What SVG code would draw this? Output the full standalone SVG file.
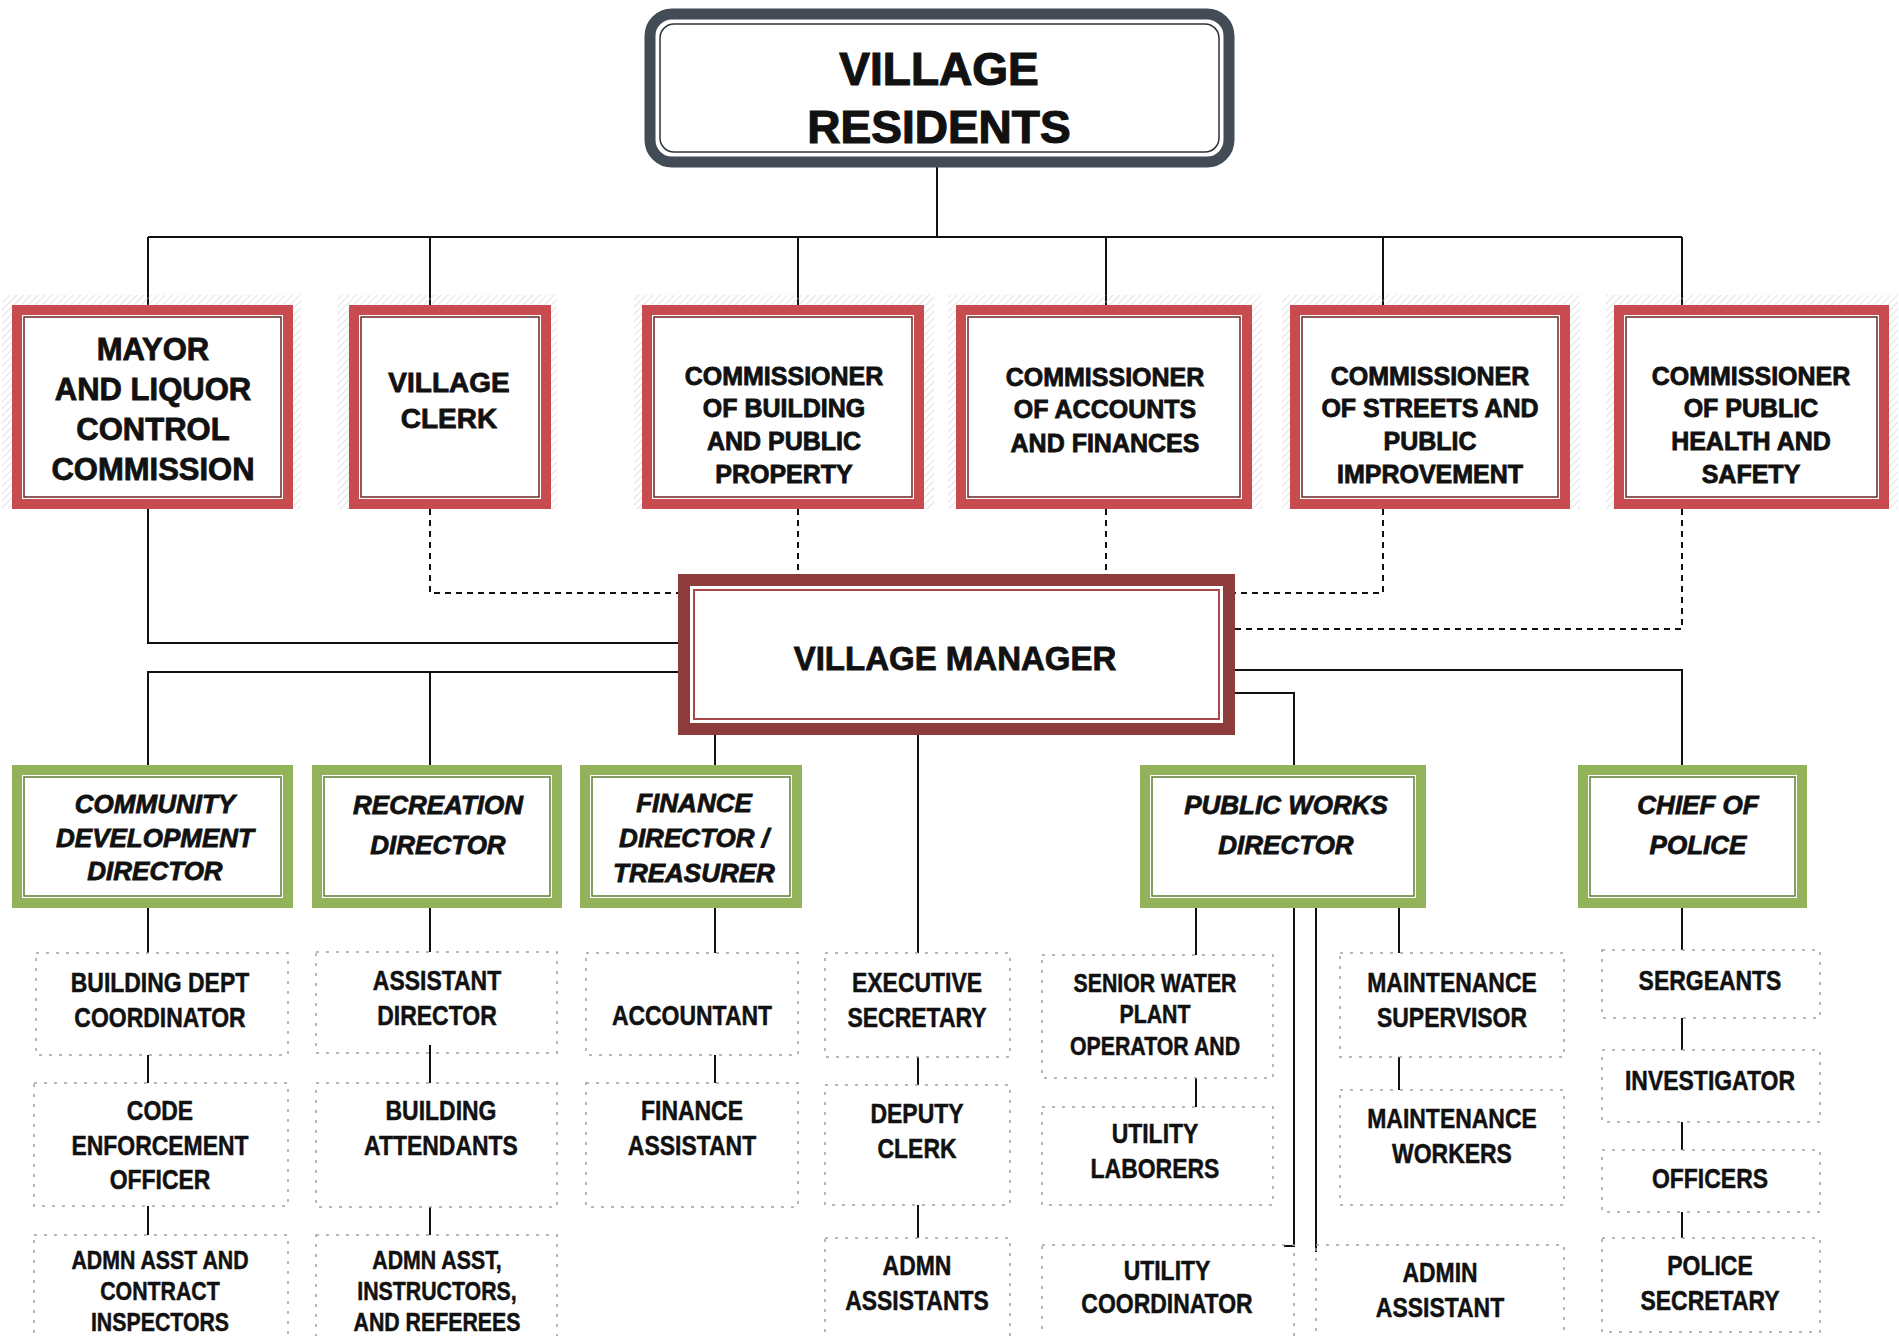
<svg xmlns="http://www.w3.org/2000/svg" width="1899" height="1336" viewBox="0 0 1899 1336">
<defs>
<pattern id="hatch" width="5" height="5" patternUnits="userSpaceOnUse" patternTransform="rotate(45)">
<line x1="0" y1="0" x2="0" y2="5" stroke="#c4c4c4" stroke-width="1.4"/>
</pattern>
</defs>
<style>
.bg{fill:#fff}
.shadow{fill:url(#hatch);opacity:.7}
.red-o{fill:#fff;stroke:#c84b50;stroke-width:10}
.red-i{fill:none;stroke:#6e2424;stroke-width:1.5}
.vm-o{fill:#fff;stroke:#8e3b3b;stroke-width:12}
.vm-i{fill:none;stroke:#a8484a;stroke-width:2}
.gr-o{fill:#fff;stroke:#93b35a;stroke-width:10}
.gr-i{fill:none;stroke:#5f7d34;stroke-width:1.5}
.vr-o{fill:#fff;stroke:#434c56;stroke-width:11}
.vr-i{fill:none;stroke:#2d3339;stroke-width:1.5}
.dbox{fill:none;stroke:#a0a0a0;stroke-width:1.5;stroke-dasharray:3 7}
.ln{fill:none;stroke:#111;stroke-width:2}
.dl{fill:none;stroke:#111;stroke-width:2;stroke-dasharray:6 5}
text{font-family:"Liberation Sans",Arial,sans-serif;font-weight:bold;text-anchor:middle;fill:#111}
.hv{stroke:#111;stroke-width:0.8}
.t-vr{font-size:46px;stroke-width:1.2}
.t-top{font-size:25px}
.t-may{font-size:31px}
.t-clk{font-size:28px}
.t-vm{font-size:33px}
.t-gr{font-size:26px;font-style:italic}
.t-bt{font-size:28px;stroke:#111;stroke-width:0.5}
.t-sm{font-size:26px;stroke:#111;stroke-width:0.5}
</style>
<rect class="bg" x="0" y="0" width="1899" height="1336"/>

<g id="connectors">
<path class="ln" d="M937 167V237M148 237H1682M148 237V305M430 237V305M798 237V305M1106 237V305M1383 237V305M1682 237V305"/>
<path class="ln" d="M148 509V643H678"/>
<path class="dl" d="M430 509V593H678"/>
<path class="dl" d="M798 509V574"/>
<path class="dl" d="M1106 509V574"/>
<path class="dl" d="M1383 509V593H1235"/>
<path class="dl" d="M1682 509V629H1235"/>
<path class="ln" d="M678 672H148V765M430 672V765"/>
<path class="ln" d="M715 735V765"/>
<path class="ln" d="M918 735V953"/>
<path class="ln" d="M1235 670H1682V765"/>
<path class="ln" d="M1235 693H1294V765"/>
<path class="ln" d="M148 908V953M148 1055V1083M148 1206V1235"/>
<path class="ln" d="M430 908V952M430 1045V1083M430 1207V1235"/>
<path class="ln" d="M715 908V953M715 1055V1083"/>
<path class="ln" d="M918 1057V1085M918 1205V1238"/>
<path class="ln" d="M1196 908V955M1196 1078V1107"/>
<path class="ln" d="M1294 908V1246H1284"/>
<path class="ln" d="M1316 908V1252"/>
<path class="ln" d="M1399 908V953M1399 1057V1090"/>
<path class="ln" d="M1682 908V950M1682 1018V1050M1682 1122V1150M1682 1212V1238"/>
</g>

<g id="village-residents">
<rect class="vr-o" x="650" y="14" width="579" height="148" rx="22"/>
<rect class="vr-i" x="660" y="24" width="559" height="128" rx="14"/>
<text class="t-vr hv" x="939" y="85">VILLAGE</text>
<text class="t-vr hv" x="939" y="143">RESIDENTS</text>
</g>

<g id="mayor">
<rect class="shadow" x="2" y="295" width="299" height="214"/>
<rect class="red-o" x="17" y="310" width="271" height="194"/>
<rect class="red-i" x="24" y="317" width="257" height="180"/>
<text class="t-may hv" x="153" y="360">MAYOR</text>
<text class="t-may hv" x="153" y="400">AND LIQUOR</text>
<text class="t-may hv" x="153" y="440">CONTROL</text>
<text class="t-may hv" x="153" y="480">COMMISSION</text>
</g>

<g id="village-clerk">
<rect class="shadow" x="337" y="295" width="220" height="214"/>
<rect class="red-o" x="354" y="310" width="192" height="194"/>
<rect class="red-i" x="361" y="317" width="178" height="180"/>
<text class="t-clk hv" x="449" y="392">VILLAGE</text>
<text class="t-clk hv" x="449" y="428">CLERK</text>
</g>

<g id="comm-building">
<rect class="shadow" x="634" y="295" width="300" height="214"/>
<rect class="red-o" x="647" y="310" width="272" height="194"/>
<rect class="red-i" x="654" y="317" width="258" height="180"/>
<text class="t-top hv" x="784" y="385">COMMISSIONER</text>
<text class="t-top hv" x="784" y="417">OF BUILDING</text>
<text class="t-top hv" x="784" y="450">AND PUBLIC</text>
<text class="t-top hv" x="784" y="483">PROPERTY</text>
</g>

<g id="comm-accounts">
<rect class="shadow" x="948" y="295" width="314" height="214"/>
<rect class="red-o" x="961" y="310" width="286" height="194"/>
<rect class="red-i" x="968" y="317" width="272" height="180"/>
<text class="t-top hv" x="1105" y="386">COMMISSIONER</text>
<text class="t-top hv" x="1105" y="418">OF ACCOUNTS</text>
<text class="t-top hv" x="1105" y="452">AND FINANCES</text>
</g>

<g id="comm-streets">
<rect class="shadow" x="1282" y="295" width="298" height="214"/>
<rect class="red-o" x="1295" y="310" width="270" height="194"/>
<rect class="red-i" x="1302" y="317" width="256" height="180"/>
<text class="t-top hv" x="1430" y="385">COMMISSIONER</text>
<text class="t-top hv" x="1430" y="417">OF STREETS AND</text>
<text class="t-top hv" x="1430" y="450">PUBLIC</text>
<text class="t-top hv" x="1430" y="483">IMPROVEMENT</text>
</g>

<g id="comm-health">
<rect class="shadow" x="1606" y="295" width="292" height="214"/>
<rect class="red-o" x="1619" y="310" width="265" height="194"/>
<rect class="red-i" x="1626" y="317" width="251" height="180"/>
<text class="t-top hv" x="1751" y="385">COMMISSIONER</text>
<text class="t-top hv" x="1751" y="417">OF PUBLIC</text>
<text class="t-top hv" x="1751" y="450">HEALTH AND</text>
<text class="t-top hv" x="1751" y="483">SAFETY</text>
</g>

<g id="village-manager">
<rect class="vm-o" x="684" y="580" width="545" height="149"/>
<rect class="vm-i" x="694" y="590" width="525" height="129"/>
<text class="t-vm hv" x="955" y="670">VILLAGE MANAGER</text>
</g>

<g id="community-dev">
<rect class="gr-o" x="17" y="770" width="271" height="133"/>
<rect class="gr-i" x="24" y="777" width="257" height="119"/>
<text class="t-gr hv" x="155" y="813">COMMUNITY</text>
<text class="t-gr hv" x="155" y="847">DEVELOPMENT</text>
<text class="t-gr hv" x="155" y="880">DIRECTOR</text>
</g>

<g id="recreation">
<rect class="gr-o" x="317" y="770" width="240" height="133"/>
<rect class="gr-i" x="324" y="777" width="226" height="119"/>
<text class="t-gr hv" x="438" y="814">RECREATION</text>
<text class="t-gr hv" x="438" y="854">DIRECTOR</text>
</g>

<g id="finance">
<rect class="gr-o" x="585" y="770" width="212" height="133"/>
<rect class="gr-i" x="592" y="777" width="198" height="119"/>
<text class="t-gr hv" x="694" y="812">FINANCE</text>
<text class="t-gr hv" x="694" y="847">DIRECTOR /</text>
<text class="t-gr hv" x="694" y="882">TREASURER</text>
</g>

<g id="public-works">
<rect class="gr-o" x="1145" y="770" width="276" height="133"/>
<rect class="gr-i" x="1152" y="777" width="262" height="119"/>
<text class="t-gr hv" x="1286" y="814">PUBLIC WORKS</text>
<text class="t-gr hv" x="1286" y="854">DIRECTOR</text>
</g>

<g id="chief-police">
<rect class="gr-o" x="1583" y="770" width="219" height="133"/>
<rect class="gr-i" x="1590" y="777" width="205" height="119"/>
<text class="t-gr hv" x="1698" y="814">CHIEF OF</text>
<text class="t-gr hv" x="1698" y="854">POLICE</text>
</g>

<g id="building-dept-coordinator">
<rect class="dbox" x="36" y="953" width="252" height="102"/>
<g transform="translate(160 0) scale(0.82 1)">
<text class="t-bt" x="0" y="992">BUILDING DEPT</text>
<text class="t-bt" x="0" y="1027">COORDINATOR</text>
</g>
</g>
<g id="code-enforcement">
<rect class="dbox" x="34" y="1083" width="254" height="123"/>
<g transform="translate(160 0) scale(0.82 1)">
<text class="t-bt" x="0" y="1120">CODE</text>
<text class="t-bt" x="0" y="1155">ENFORCEMENT</text>
<text class="t-bt" x="0" y="1189">OFFICER</text>
</g>
</g>
<g id="admn-asst-contract">
<rect class="dbox" x="34" y="1235" width="254" height="110"/>
<g transform="translate(160 0) scale(0.82 1)">
<text class="t-sm" x="0" y="1269">ADMN ASST AND</text>
<text class="t-sm" x="0" y="1300">CONTRACT</text>
<text class="t-sm" x="0" y="1331">INSPECTORS</text>
</g>
</g>

<g id="assistant-director">
<rect class="dbox" x="316" y="952" width="241" height="101"/>
<g transform="translate(437 0) scale(0.82 1)">
<text class="t-bt" x="0" y="990">ASSISTANT</text>
<text class="t-bt" x="0" y="1025">DIRECTOR</text>
</g>
</g>
<g id="building-attendants">
<rect class="dbox" x="316" y="1083" width="241" height="124"/>
<g transform="translate(441 0) scale(0.82 1)">
<text class="t-bt" x="0" y="1120">BUILDING</text>
<text class="t-bt" x="0" y="1155">ATTENDANTS</text>
</g>
</g>
<g id="admn-asst-instructors">
<rect class="dbox" x="316" y="1235" width="241" height="110"/>
<g transform="translate(437 0) scale(0.82 1)">
<text class="t-sm" x="0" y="1269">ADMN  ASST,</text>
<text class="t-sm" x="0" y="1300">INSTRUCTORS,</text>
<text class="t-sm" x="0" y="1331">AND REFEREES</text>
</g>
</g>

<g id="accountant">
<rect class="dbox" x="586" y="953" width="212" height="102"/>
<g transform="translate(692 0) scale(0.82 1)">
<text class="t-bt" x="0" y="1025">ACCOUNTANT</text>
</g>
</g>
<g id="finance-assistant">
<rect class="dbox" x="586" y="1083" width="212" height="124"/>
<g transform="translate(692 0) scale(0.82 1)">
<text class="t-bt" x="0" y="1120">FINANCE</text>
<text class="t-bt" x="0" y="1155">ASSISTANT</text>
</g>
</g>

<g id="executive-secretary">
<rect class="dbox" x="825" y="953" width="185" height="104"/>
<g transform="translate(917 0) scale(0.82 1)">
<text class="t-bt" x="0" y="992">EXECUTIVE</text>
<text class="t-bt" x="0" y="1027">SECRETARY</text>
</g>
</g>
<g id="deputy-clerk">
<rect class="dbox" x="825" y="1085" width="185" height="120"/>
<g transform="translate(917 0) scale(0.82 1)">
<text class="t-bt" x="0" y="1123">DEPUTY</text>
<text class="t-bt" x="0" y="1158">CLERK</text>
</g>
</g>
<g id="admn-assistants">
<rect class="dbox" x="825" y="1238" width="185" height="107"/>
<g transform="translate(917 0) scale(0.82 1)">
<text class="t-bt" x="0" y="1275">ADMN</text>
<text class="t-bt" x="0" y="1310">ASSISTANTS</text>
</g>
</g>

<g id="senior-water">
<rect class="dbox" x="1042" y="955" width="231" height="123"/>
<g transform="translate(1155 0) scale(0.82 1)">
<text class="t-sm" x="0" y="992">SENIOR WATER</text>
<text class="t-sm" x="0" y="1023">PLANT</text>
<text class="t-sm" x="0" y="1055">OPERATOR AND</text>
</g>
</g>
<g id="utility-laborers">
<rect class="dbox" x="1042" y="1107" width="231" height="98"/>
<g transform="translate(1155 0) scale(0.82 1)">
<text class="t-bt" x="0" y="1143">UTILITY</text>
<text class="t-bt" x="0" y="1178">LABORERS</text>
</g>
</g>
<g id="utility-coordinator">
<rect class="dbox" x="1042" y="1245" width="252" height="100"/>
<g transform="translate(1167 0) scale(0.82 1)">
<text class="t-bt" x="0" y="1280">UTILITY</text>
<text class="t-bt" x="0" y="1313">COORDINATOR</text>
</g>
</g>

<g id="maintenance-supervisor">
<rect class="dbox" x="1340" y="953" width="224" height="104"/>
<g transform="translate(1452 0) scale(0.82 1)">
<text class="t-bt" x="0" y="992">MAINTENANCE</text>
<text class="t-bt" x="0" y="1027">SUPERVISOR</text>
</g>
</g>
<g id="maintenance-workers">
<rect class="dbox" x="1340" y="1090" width="224" height="115"/>
<g transform="translate(1452 0) scale(0.82 1)">
<text class="t-bt" x="0" y="1128">MAINTENANCE</text>
<text class="t-bt" x="0" y="1163">WORKERS</text>
</g>
</g>
<g id="admin-assistant">
<rect class="dbox" x="1316" y="1245" width="248" height="100"/>
<g transform="translate(1440 0) scale(0.82 1)">
<text class="t-bt" x="0" y="1282">ADMIN</text>
<text class="t-bt" x="0" y="1317">ASSISTANT</text>
</g>
</g>

<g id="sergeants">
<rect class="dbox" x="1602" y="950" width="218" height="68"/>
<g transform="translate(1710 0) scale(0.82 1)">
<text class="t-bt" x="0" y="990">SERGEANTS</text>
</g>
</g>
<g id="investigator">
<rect class="dbox" x="1602" y="1050" width="218" height="72"/>
<g transform="translate(1710 0) scale(0.82 1)">
<text class="t-bt" x="0" y="1090">INVESTIGATOR</text>
</g>
</g>
<g id="officers">
<rect class="dbox" x="1602" y="1150" width="218" height="62"/>
<g transform="translate(1710 0) scale(0.82 1)">
<text class="t-bt" x="0" y="1188">OFFICERS</text>
</g>
</g>
<g id="police-secretary">
<rect class="dbox" x="1602" y="1238" width="218" height="94"/>
<g transform="translate(1710 0) scale(0.82 1)">
<text class="t-bt" x="0" y="1275">POLICE</text>
<text class="t-bt" x="0" y="1310">SECRETARY</text>
</g>
</g>
</svg>
